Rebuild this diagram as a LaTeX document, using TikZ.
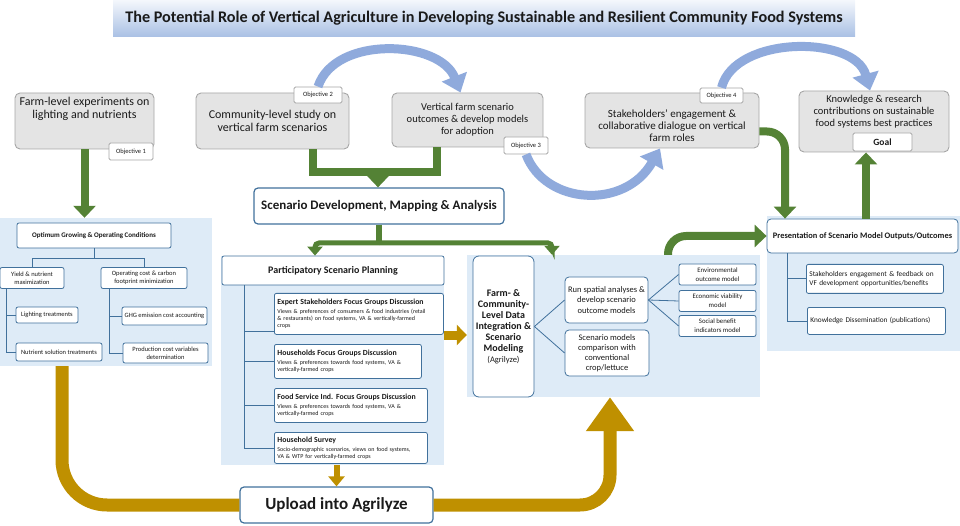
\documentclass[tikz,border=0pt]{standalone}
\usepackage{fontspec}
\setmainfont{Carlito}
\usetikzlibrary{arrows.meta}
\definecolor{vfInk}{HTML}{1A1A1A}
\definecolor{vfGrey}{HTML}{E4E4E4}
\definecolor{vfGreyLine}{HTML}{A6A6A6}
\definecolor{vfPanel}{HTML}{DEEBF7}
\definecolor{vfEdge}{HTML}{41719C}
\definecolor{vfGreen}{HTML}{548235}
\definecolor{vfGold}{HTML}{BF9000}
\definecolor{vfSky}{HTML}{8FAADC}
\definecolor{vfBanTop}{HTML}{F4F7FC}
\definecolor{vfBanBot}{HTML}{A9C0E4}
\newcommand{\VFTitle}{\fontsize{16.2}{19}\selectfont\bfseries}
\newcommand{\VFObj}{\fontsize{12}{13}\selectfont}
\newcommand{\VFObjS}{\fontsize{10.5}{12}\selectfont}
\newcommand{\VFTag}{\fontsize{6.5}{8}\selectfont}
\newcommand{\VFHead}{\fontsize{13}{15}\selectfont\bfseries}
\newcommand{\VFLeft}{\fontsize{6.5}{8}\selectfont}
\newcommand{\VFSub}{\fontsize{7.8}{9}\selectfont\bfseries}
\newcommand{\VFTiny}{\fontsize{6}{7}\selectfont}
\newcommand{\VFMid}{\fontsize{8.5}{10.5}\selectfont}
\newcommand{\VFSmall}{\fontsize{6.8}{9}\selectfont}
\tikzset{vf/base/.style={x=1pt,y=-1pt,line cap=butt,line join=miter,
  every node/.style={inner sep=0pt,text=vfInk,align=center}},
  vf/banner/.style={top color=vfBanTop,bottom color=vfBanBot,minimum width=742pt,
    minimum height=37pt,font=\VFTitle},
  vf/panel/.style={fill=vfPanel,draw=none},
  vf/objbox/.style={draw=vfGreyLine,fill=vfGrey,rounded corners=5pt,line width=.9pt},
  vf/tag/.style={draw=vfGreyLine,fill=white,rounded corners=1.5pt,line width=.8pt,font=\VFTag},
  vf/box/.style={draw=vfEdge,fill=white,rounded corners=2pt,line width=.8pt},
  vf/bigbox/.style={vf/box,line width=1.2pt,rounded corners=4pt},
  vf/note/.style={vf/box,anchor=north west,align=left,inner sep=3pt},
  vf/tree/.style={draw=vfEdge,line width=.8pt},
  vf/green/.style={draw=vfGreen,line width=8pt},
  vf/greentip/.style={-{Triangle[length=12pt,width=22pt]}},
  vf/gold/.style={draw=vfGold,line width=13pt},
  vf/sky/.style={draw=vfSky,line width=9pt,-{Triangle[length=17pt,width=26pt]}}}
\begin{document}
\begin{tikzpicture}[vf/base]
  \useasboundingbox (0,0) rectangle (960,526);
  \node[vf/banner] (title) at (484,18.5)
    {The Potential Role of Vertical Agriculture in Developing Sustainable and Resilient Community Food Systems};

  % background panels
  \node[vf/panel,minimum width=212,minimum height=148] (leftpanel) at (106,292) {};
  \node[vf/panel,minimum width=223,minimum height=209] (partpanel) at (332.5,360.5) {};
  \node[vf/panel,minimum width=293,minimum height=142] (midpanel) at (613.5,326) {};
  \node[vf/panel,minimum width=193,minimum height=135] (rightpanel) at (863.5,283.5) {};

  % objectives and goal
  \node[vf/objbox,minimum width=139,minimum height=56] (obj1box) at (84.5,121) {};
  \node[font=\VFObj,anchor=north] (obj1txt) at (84.5,97) {Farm-level experiments on\\lighting and nutrients};
  \node[vf/tag,minimum width=44,minimum height=17] (obj1tag) at (131,151.5) {Objective 1};
  \node[vf/objbox,minimum width=153,minimum height=56,font=\VFObj] (obj2box) at (272.5,121)
    {Community-level study on\\vertical farm scenarios};
  \node[vf/tag,minimum width=48,minimum height=16] (obj2tag) at (318,95) {Objective 2};
  \node[vf/objbox,minimum width=151,minimum height=54,font=\VFObjS] (obj3box) at (467.5,120)
    {Vertical farm scenario\\outcomes \& develop models\\for adoption};
  \node[vf/tag,minimum width=44,minimum height=17] (obj3tag) at (526,145.5) {Objective 3};
  \node[vf/objbox,minimum width=174,minimum height=55] (obj4box) at (672,120.5) {};
  \node[font=\fontsize{11}{12}\selectfont] (obj4txt) at (672,126)
    {Stakeholders' engagement \&\\collaborative dialogue on vertical\\farm roles};
  \node[vf/tag,minimum width=43,minimum height=15] (obj4tag) at (721.5,95.5) {Objective 4};
  \node[vf/objbox,minimum width=150,minimum height=61] (goalbox) at (874,121.5) {};
  \node[font=\VFObjS] (goaltxt) at (874,112)
    {Knowledge \& research\\contributions on sustainable\\food systems best practices};
  \node[vf/tag,minimum width=59,minimum height=18,font=\fontsize{9.5}{11}\selectfont\bfseries] (goaltag)
    at (882.5,142) {Goal};

  % farm-level branch
  \node[vf/box,minimum width=154,minimum height=25,font=\fontsize{7}{8.5}\selectfont\bfseries] (optbox)
    at (94,235.5) {Optimum Growing \& Operating Conditions};
  \node[vf/box,minimum width=64,minimum height=21,font=\VFLeft] (yieldbox) at (32,278)
    {Yield \& nutrient\\maximization};
  \node[vf/box,minimum width=86,minimum height=21,font=\VFLeft] (opcostbox) at (144,278)
    {Operating cost \& carbon\\footprint minimization};
  \node[vf/box,minimum width=62,minimum height=16,font=\VFLeft] (lightbox) at (47,315) {Lighting treatments};
  \node[vf/box,minimum width=86,minimum height=18,font=\VFLeft] (nutrbox) at (59,352) {Nutrient solution treatments};
  \node[vf/box,minimum width=85,minimum height=18,font=\VFLeft] (ghgbox) at (164.5,316) {GHG emission cost accounting};
  \node[vf/box,minimum width=85,minimum height=20,font=\VFLeft] (prodbox) at (165.5,353)
    {Production cost variables\\determination};
  \draw[vf/tree] (optbox.south) -- ++(0,10) -| (yieldbox.north);
  \draw[vf/tree] (optbox.south) -- ++(0,10) -| (opcostbox.north);
  \draw[vf/tree] ([xshift=7pt]yieldbox.south west) |- (lightbox.west);
  \draw[vf/tree] ([xshift=7pt]yieldbox.south west) |- (nutrbox.west);
  \draw[vf/tree] ([xshift=9pt]opcostbox.south west) |- (ghgbox.west);
  \draw[vf/tree] ([xshift=9pt]opcostbox.south west) |- (prodbox.west);

  % community-level branch
  \node[vf/bigbox,minimum width=250,minimum height=36,font=\VFHead] (scenbox) at (379,206)
    {Scenario Development, Mapping \& Analysis};
  \node[vf/box,minimum width=222,minimum height=29,font=\fontsize{10}{12}\selectfont\bfseries] (partbox)
    at (333,270.5) {Participatory Scenario Planning};
  \node[vf/note,minimum width=169,minimum height=41,text width=163,font=\VFTiny] (expertbox) at (274,293)
    {{\VFSub Expert Stakeholders Focus Groups Discussion}\\[2pt]Views \& preferences of consumers \& food industries (retail\\\& restaurants) on food systems, VA \& vertically-farmed\\crops};
  \node[vf/note,minimum width=147,minimum height=34,text width=141,font=\VFTiny] (hhbox) at (274,344)
    {{\VFSub Households Focus Groups Discussion}\\[2pt]Views \& preferences towards food systems, VA \&\\vertically-farmed crops};
  \node[vf/note,minimum width=153,minimum height=34,text width=147,font=\VFTiny] (fsbox) at (274,388)
    {{\VFSub Food Service Ind. Focus Groups Discussion}\\[2pt]Views \& preferences towards food systems, VA \&\\vertically-farmed crops};
  \node[vf/note,minimum width=153,minimum height=31,text width=147,font=\VFTiny] (surveybox) at (274,432)
    {{\VFSub Household Survey}\\[2pt]Socio-demographic scenarios, views on food systems,\\VA \& WTP for vertically-farmed crops};
  \draw[vf/tree] ([xshift=-89pt]partbox.south) |- ([yshift=-17pt]expertbox.west);
  \draw[vf/tree] ([xshift=-89pt]partbox.south) |- (hhbox.west);
  \draw[vf/tree] ([xshift=-89pt]partbox.south) |- (fsbox.west);
  \draw[vf/tree] ([xshift=-89pt]partbox.south) |- (surveybox.west);
  \node[vf/bigbox,minimum width=193,minimum height=36,font=\fontsize{17}{20}\selectfont\bfseries] (uploadbox)
    at (336.5,505) {Upload into Agrilyze};

  % integration and modelling
  \node[vf/box,rounded corners=6pt,minimum width=61,minimum height=141,font=\fontsize{10}{11}\selectfont\bfseries]
    (farmbox) at (503.5,326.5)
    {Farm- \&\\Community-\\Level Data\\Integration \&\\Scenario\\Modeling\\{\mdseries\fontsize{8.5}{11}\selectfont(Agrilyze)}};
  \node[vf/box,rounded corners=4pt,minimum width=83,minimum height=46,font=\VFMid] (runbox) at (606.5,300)
    {Run spatial analyses \&\\develop scenario\\outcome models};
  \node[vf/box,rounded corners=4pt,minimum width=84,minimum height=46,font=\fontsize{8.5}{10}\selectfont] (cmpbox)
    at (607,353) {Scenario models\\comparison with\\conventional\\crop/lettuce};
  \node[vf/box,minimum width=77,minimum height=21,font=\VFSmall] (envbox) at (717.5,274.5)
    {Environmental\\outcome model};
  \node[vf/box,minimum width=77,minimum height=21,font=\VFSmall] (econbox) at (717.5,301)
    {Economic viability\\model};
  \node[vf/box,minimum width=77,minimum height=21,font=\VFSmall] (socbox) at (717.5,326)
    {Social benefit\\indicators model};
  \draw[vf/tree] (farmbox.east) -- (runbox.west);
  \draw[vf/tree] (farmbox.east) -- (cmpbox.west);
  \draw[vf/tree] (runbox.east) -- (envbox.west);
  \draw[vf/tree] (runbox.east) -- (econbox.west);
  \draw[vf/tree] (runbox.east) -- (socbox.west);

  % outputs
  \node[vf/box,rounded corners=4pt,minimum width=191,minimum height=34,font=\fontsize{8.4}{10}\selectfont\bfseries]
    (presbox) at (862.5,236) {Presentation of Scenario Model Outputs/Outcomes};
  \node[vf/note,minimum width=137,minimum height=29,text width=131,font=\fontsize{7.3}{8.8}\selectfont]
    (stakebox) at (806,264) {Stakeholders engagement \& feedback on\\VF development opportunities/benefits};
  \node[vf/note,minimum width=138,minimum height=27,text width=132,font=\fontsize{7.3}{8.8}\selectfont]
    (dissbox) at (807,307) {Knowledge Dissemination (publications)};
  \draw[vf/tree] ([xshift=-75.5pt]presbox.south) |- (stakebox.west);
  \draw[vf/tree] ([xshift=-75.5pt]presbox.south) |- (dissbox.west);

  % objective arcs
  \draw[vf/sky] (obj2tag.north) .. controls (335,35) and (440,40) .. ([xshift=-7pt]obj3box.north);
  \draw[vf/sky] (obj3tag.south) .. controls (545,205) and (625,210) .. ([xshift=-12pt]obj4box.south);
  \draw[vf/sky] (obj4tag.north) .. controls (735,35) and (855,35) .. ([xshift=-4pt]goalbox.north);

  % green flow
  \coordinate (gjoin) at (378,172);
  \coordinate (sjoin) at (379,243);
  \draw[vf/green,vf/greentip] (obj1box.south) -- (obj1box.south |- leftpanel.north);
  \draw[vf/green] ([xshift=40.5pt]obj2box.south) |- (gjoin) -| ([xshift=-30.5pt]obj3box.south);
  \draw[vf/green,vf/greentip] (gjoin) -- (gjoin |- scenbox.north);
  \draw[vf/green,line width=6pt] (scenbox.south) -- (sjoin);
  \draw[vf/green,line width=5pt,rounded corners=4pt,-{Triangle[length=9pt,width=15pt]}]
    (sjoin) -| ([xshift=-18pt]partbox.north);
  \draw[vf/green,line width=5pt,rounded corners=4pt,-{Triangle[length=9pt,width=15pt]}]
    (sjoin) -| ([xshift=-61.5pt]midpanel.north);
  \draw[vf/green,vf/greentip,rounded corners=18pt] ([xshift=54.5pt]midpanel.north) |- (presbox.west);
  \draw[vf/green,vf/greentip,rounded corners=18pt] ([yshift=-11pt]obj4box.east) -| ([xshift=-77.5pt]presbox.north);
  \draw[vf/green,vf/greentip] ([xshift=3.5pt]presbox.north) -- ([xshift=3.5pt]presbox.north |- goalbox.south);

  % gold flow through Agrilyze
  \draw[vf/gold,rounded corners=45pt] ([xshift=-44pt]leftpanel.south) |- (uploadbox.west);
  \draw[vf/gold,rounded corners=30pt,-{Triangle[length=34pt,width=46pt]}]
    (uploadbox.east) -| ([xshift=-3.5pt]midpanel.south);
  \draw[vf/gold,line width=6pt,-{Triangle[length=10pt,width=16pt]}]
    (uploadbox.north |- partpanel.south) -- (uploadbox.north);
  \draw[vf/gold,line width=9pt,-{Triangle[length=10pt,width=20pt]}]
    ([yshift=25.5pt]partpanel.east) -- ([yshift=25.5pt]partpanel.east -| midpanel.west);
\end{tikzpicture}
\end{document}
